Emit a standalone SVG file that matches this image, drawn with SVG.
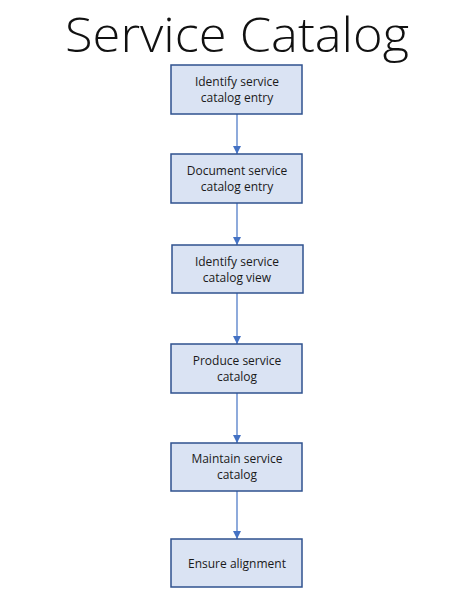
<svg xmlns="http://www.w3.org/2000/svg" width="474" height="589" viewBox="0 0 474 589">
<style>
.box{fill:#dae3f3;stroke:#2f528f;stroke-width:1.5}
.lbl{font-family:"Open Sans","Noto Sans",sans-serif;font-size:12px;fill:#1a1a1a;text-anchor:middle}
.title{font-family:"Open Sans","Noto Sans",sans-serif;font-size:48px;font-weight:300;fill:#111;text-anchor:middle}
.conn{stroke:#4472c4;stroke-width:1.2;fill:none}
</style>
<defs>
<marker id="arr" viewBox="0 0 10 10" refX="10" refY="5" markerWidth="8" markerHeight="8" markerUnits="userSpaceOnUse" orient="auto">
<path d="M0,0 L10,5 L0,10 Z" fill="#4472c4"/>
</marker>
</defs>
<rect width="474" height="589" fill="#fff"/>
<text class="title" x="237" y="51.8" textLength="344" lengthAdjust="spacingAndGlyphs">Service Catalog</text>
<g id="connectors">
<line class="conn" x1="237" y1="114" x2="237" y2="154" marker-end="url(#arr)"/>
<line class="conn" x1="237" y1="203" x2="237" y2="245" marker-end="url(#arr)"/>
<line class="conn" x1="237" y1="293" x2="237" y2="344" marker-end="url(#arr)"/>
<line class="conn" x1="237" y1="393" x2="237" y2="443" marker-end="url(#arr)"/>
<line class="conn" x1="237" y1="491" x2="237" y2="539" marker-end="url(#arr)"/>
</g>
<g id="n1"><rect class="box" x="171" y="65" width="131" height="49"/><text class="lbl" x="237" y="86">Identify service</text><text class="lbl" x="237" y="102">catalog entry</text></g>
<g id="n2"><rect class="box" x="171" y="154" width="131" height="49"/><text class="lbl" x="237" y="175">Document service</text><text class="lbl" x="237" y="191">catalog entry</text></g>
<g id="n3"><rect class="box" x="172" y="245" width="131" height="48"/><text class="lbl" x="237" y="266">Identify service</text><text class="lbl" x="237" y="282">catalog view</text></g>
<g id="n4"><rect class="box" x="171" y="344" width="131" height="49"/><text class="lbl" x="237" y="365">Produce service</text><text class="lbl" x="237" y="381">catalog</text></g>
<g id="n5"><rect class="box" x="171" y="443" width="131" height="48"/><text class="lbl" x="237" y="463">Maintain service</text><text class="lbl" x="237" y="479">catalog</text></g>
<g id="n6"><rect class="box" x="171" y="539" width="131" height="48"/><text class="lbl" x="237" y="568">Ensure alignment</text></g>
</svg>
